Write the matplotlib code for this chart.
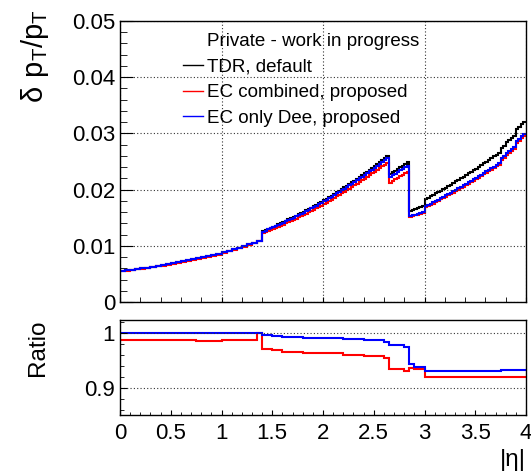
import numpy as np
import matplotlib
matplotlib.use("Agg")
import matplotlib.pyplot as plt
from matplotlib.lines import Line2D
from matplotlib.ticker import MultipleLocator, FuncFormatter

plt.rcParams['font.family'] = ['Liberation Sans', 'DejaVu Sans']
plt.rcParams['mathtext.fontset'] = 'custom'
plt.rcParams['mathtext.rm'] = 'Liberation Sans'

# |eta| bins: 0.05 wide in the barrel, 0.025 wide from 1.4 on
eta_edges = np.concatenate([np.linspace(0.0, 1.4, 29)[:-1],
                            np.linspace(1.4, 4.0, 105)])

# pT resolution for the TDR default layout, one value per bin
res_tdr = [
    # 0 - 1.4
    0.00550, 0.00562, 0.00574, 0.00586, 0.00598, 0.00612, 0.00626, 0.00640, 0.00655, 0.00670,
    0.00690, 0.00707, 0.00724, 0.00742, 0.00760, 0.00778, 0.00797, 0.00816, 0.00836, 0.00856,
    0.00885, 0.00912, 0.00940, 0.00968, 0.00997, 0.01026, 0.01056, 0.01090,
    # 1.4 - 2.65
    0.01255, 0.01275, 0.01296, 0.01317, 0.01338, 0.01359, 0.01380, 0.01402, 0.01424, 0.01446,
    0.01468, 0.01490, 0.01513, 0.01536, 0.01559, 0.01582, 0.01606, 0.01630, 0.01655, 0.01680,
    0.01705, 0.01731, 0.01757, 0.01783, 0.01810, 0.01837, 0.01865, 0.01893, 0.01921, 0.01950,
    0.01979, 0.02008, 0.02038, 0.02068, 0.02098, 0.02129, 0.02160, 0.02191, 0.02223, 0.02255,
    0.02288, 0.02321, 0.02354, 0.02388, 0.02422, 0.02456, 0.02491, 0.02526, 0.02561, 0.02597,
    # 2.65 - 2.85
    0.02275, 0.02305, 0.02335, 0.02365, 0.02395, 0.02425, 0.02455, 0.02490,
    # 2.85 - 3.0
    0.01620, 0.01635, 0.01650, 0.01665, 0.01685, 0.01705,
    # 3.0 - 4.0
    0.01830, 0.01855, 0.01880, 0.01905, 0.01931, 0.01957, 0.01983, 0.02009, 0.02036, 0.02063,
    0.02090, 0.02117, 0.02145, 0.02173, 0.02201, 0.02229, 0.02258, 0.02287, 0.02316, 0.02345,
    0.02375, 0.02405, 0.02435, 0.02465, 0.02496, 0.02527, 0.02558, 0.02589, 0.02620, 0.02652,
    0.02740, 0.02775, 0.02840, 0.02875, 0.02910, 0.02950, 0.03070, 0.03115, 0.03160, 0.03210,
]

# ratio of each proposal to the TDR default, per bin
ratio_combined = ([0.988] * 15 + [0.986] * 5 + [0.988] * 7 + [1.000]
                  + [0.972] * 4 + [0.969] * 4 + [0.966] * 8 + [0.963] * 16
                  + [0.960] * 8 + [0.958] * 8 + [0.955] * 2 + [0.934] * 6
                  + [0.932] * 2 + [0.937] * 2 + [0.934] * 4
                  + [0.920] * 20 + [0.921] * 20)
ratio_dee = ([1.000] * 28
             + [0.997] * 4 + [0.994] * 4 + [0.993] * 8 + [0.991] * 16
             + [0.989] * 8 + [0.987] * 8 + [0.984] * 2 + [0.978] * 6
             + [0.975] * 2 + [0.943] * 2 + [0.938] * 4
             + [0.931] * 30 + [0.933] * 10)

res_tdr = np.array(res_tdr)
ratio_combined = np.array(ratio_combined)
ratio_dee = np.array(ratio_dee)
res_combined = res_tdr * ratio_combined
res_dee = res_tdr * ratio_dee

W, H = 531, 472
fig = plt.figure(figsize=(W / 100, H / 100), dpi=100)
ax1 = fig.add_axes([120 / W, 170 / H, 406 / W, 281 / H])
ax2 = fig.add_axes([120 / W, 57 / H, 406 / W, 95 / H])

grid_kw = dict(color='#333333', linestyle=(0, (1, 2)), linewidth=0.8)

# upper pad: resolution vs |eta|
ax1.stairs(res_tdr, eta_edges, baseline=None, color='black', lw=1.5)
ax1.stairs(res_combined, eta_edges, baseline=None, color='red', lw=1.5)
ax1.stairs(res_dee, eta_edges, baseline=None, color='blue', lw=1.5)
ax1.set_xlim(0, 4)
ax1.set_ylim(0, 0.05)
ax1.xaxis.set_major_locator(MultipleLocator(1))
ax1.xaxis.set_minor_locator(MultipleLocator(0.2))
ax1.yaxis.set_major_locator(MultipleLocator(0.01))
ax1.yaxis.set_minor_locator(MultipleLocator(0.002))
ax1.yaxis.set_major_formatter(FuncFormatter(lambda v, _: f'{v:g}'))
ax1.tick_params(which='both', direction='in', top=False, right=False,
                labelbottom=False, labelsize=16)
ax1.tick_params(axis='y', which='major', length=9, pad=3.5)
ax1.tick_params(axis='y', which='minor', length=5)
ax1.tick_params(axis='x', which='both', length=3.5)
ax1.grid(True, which='major', **grid_kw)

handles = [Line2D([], [], color='none'),
           Line2D([], [], color='black', lw=1),
           Line2D([], [], color='red', lw=1),
           Line2D([], [], color='blue', lw=1)]
labels = ['Private - work in progress', 'TDR, default',
          'EC combined, proposed', 'EC only Dee, proposed']
ax1.legend(handles, labels, loc='upper left', bbox_to_anchor=(0.155, 0.957),
           frameon=False, fontsize=13.5, handlelength=1.05, handletextpad=0.22,
           labelspacing=0.45, borderpad=0, borderaxespad=0)

# lower pad: ratio to TDR
ax2.stairs(ratio_combined, eta_edges, baseline=None, color='red', lw=1.5)
ax2.stairs(ratio_dee, eta_edges, baseline=None, color='blue', lw=1.5)
ax2.set_xlim(0, 4)
ax2.set_ylim(0.851, 1.024)
ax2.xaxis.set_major_locator(MultipleLocator(0.5))
ax2.xaxis.set_minor_locator(MultipleLocator(0.1))
ax2.xaxis.set_major_formatter(FuncFormatter(lambda v, _: f'{v:g}'))
ax2.yaxis.set_major_locator(MultipleLocator(0.1))
ax2.yaxis.set_minor_locator(MultipleLocator(0.02))
ax2.yaxis.set_major_formatter(FuncFormatter(lambda v, _: f'{v:g}'))
ax2.tick_params(which='both', direction='in', top=False, right=False, labelsize=16)
ax2.tick_params(axis='x', which='major', length=3.5, pad=5.8)
ax2.tick_params(axis='x', which='minor', length=2.5)
ax2.tick_params(axis='y', which='major', length=5, pad=3.5)
ax2.tick_params(axis='y', which='minor', length=3)
ax2.grid(True, axis='y', which='major', **grid_kw)

for ax in (ax1, ax2):
    for sp in ax.spines.values():
        sp.set_linewidth(1.0)

fig.text(35 / W, 1 - 9 / H, r'$\mathregular{\delta\ p_{T}/p_{T}}$',
         rotation=90, ha='center', va='top', fontsize=21)
fig.text(38 / W, 1 - 348 / H, 'Ratio', rotation=90, ha='center', va='center',
         fontsize=17.5)
fig.text(526 / W, 1 - 466 / H, '|η|', ha='right', va='baseline', fontsize=17.5)

fig.savefig('out.png', dpi=100)
